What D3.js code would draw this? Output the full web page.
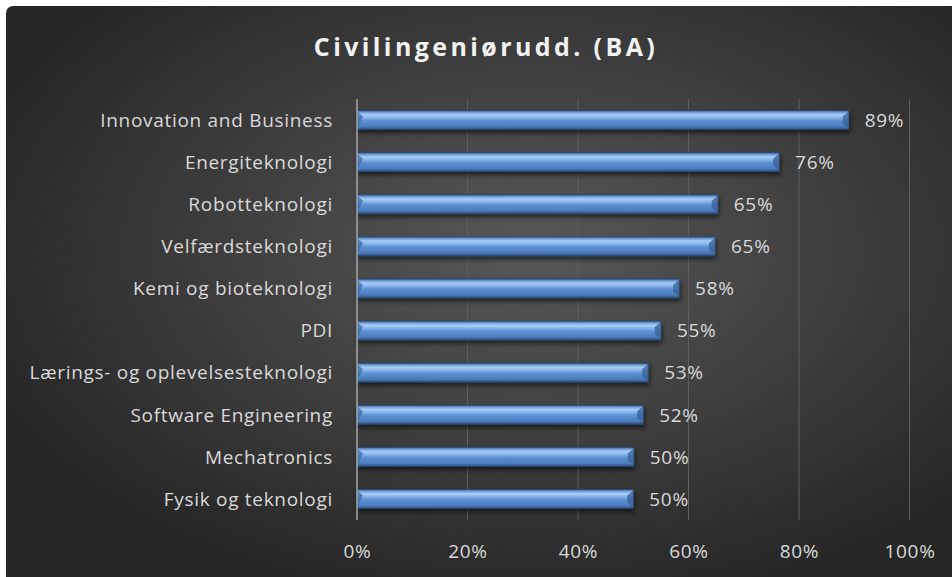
<!DOCTYPE html>
<html>
<head>
<meta charset="utf-8">
<script src="https://cdn.jsdelivr.net/npm/d3@7"></script>
<style>
  html, body { margin: 0; padding: 0; background: #fff; }
  svg { display: block; }
</style>
</head>
<body>
<div id="chart"></div>
<script>
const TITLE = "Civilingeniørudd. (BA)";
const categories = [
    "Innovation and Business",
    "Energiteknologi",
    "Robotteknologi",
    "Velfærdsteknologi",
    "Kemi og bioteknologi",
    "PDI",
    "Lærings- og oplevelsesteknologi",
    "Software Engineering",
    "Mechatronics",
    "Fysik og teknologi"
];
const values = [0.89, 0.764, 0.653, 0.648, 0.583, 0.55, 0.527, 0.518, 0.501, 0.50];
const xTicks = [0, 0.2, 0.4, 0.6, 0.8, 1.0];

const W = 952, H = 577;
const FONT = "'Open Sans', 'Liberation Sans', sans-serif";

const svg = d3.select("#chart").append("svg")
    .attr("width", W)
    .attr("height", H);

const defs = svg.append("defs");

// background radial gradient
const bg = defs.append("radialGradient")
    .attr("id", "bg")
    .attr("cx", "55%").attr("cy", "42%").attr("r", "62%");
bg.append("stop").attr("offset", "0%").attr("stop-color", "#585858");
bg.append("stop").attr("offset", "100%").attr("stop-color", "#262626");

// bar gradient (cylinder look)
const bar = defs.append("linearGradient")
    .attr("id", "barGrad")
    .attr("x1", 0).attr("y1", 0).attr("x2", 0).attr("y2", 1);
[
    ["0%", "#3d6497"],
    ["10%", "#6f9fdb"],
    ["22%", "#a8cdf5"],
    ["38%", "#86b4ea"],
    ["52%", "#5f92d3"],
    ["85%", "#4a7bbd"],
    ["100%", "#2c4f7c"]
].forEach(s => bar.append("stop").attr("offset", s[0]).attr("stop-color", s[1]));

const shadow = defs.append("filter").attr("id", "shadow")
    .attr("x", "-5%").attr("y", "-30%").attr("width", "110%").attr("height", "180%");
shadow.append("feDropShadow")
    .attr("dx", 1).attr("dy", 3).attr("stdDeviation", 2.5)
    .attr("flood-color", "#000").attr("flood-opacity", 0.6);

svg.append("rect")
    .attr("x", 6).attr("y", 6)
    .attr("width", W - 6 + 10).attr("height", H - 6 + 10)
    .attr("rx", 7)
    .attr("fill", "url(#bg)");

// title
svg.append("text")
    .attr("x", 486).attr("y", 56)
    .attr("text-anchor", "middle")
    .attr("fill", "#f2f2f2")
    .style("font-family", FONT)
    .style("font-size", "25px")
    .style("font-weight", "bold")
    .style("letter-spacing", "3.4px")
    .text(TITLE);

const margin = { left: 357, right: W - 909.5, top: 99, bottom: H - 520 };

const x = d3.scaleLinear()
    .domain([0, 1])
    .range([margin.left, W - margin.right]);

const y = d3.scaleBand()
    .domain(categories)
    .range([margin.top, H - margin.bottom])
    .paddingInner(0.55)
    .paddingOuter(0.275);

const labelStyle = sel => sel
    .attr("fill", "#d9d9d9")
    .style("font-family", FONT)
    .style("font-size", "19px")
    .style("letter-spacing", "0.7px");

// gridlines
svg.append("g")
    .selectAll("line")
    .data(xTicks.slice(1))
    .join("line")
    .attr("x1", d => x(d)).attr("x2", d => x(d))
    .attr("y1", margin.top).attr("y2", H - margin.bottom)
    .attr("stroke", "#5f5f5f")
    .attr("stroke-width", 1);

// x axis labels
const xAxis = svg.append("g")
    .attr("transform", `translate(0,${H - margin.bottom})`)
    .call(d3.axisBottom(x).tickValues(xTicks).tickFormat(d3.format(".0%")).tickSize(0).tickPadding(25));
xAxis.select(".domain").remove();
xAxis.selectAll("text").call(labelStyle);

// bars
const barG = svg.append("g");
const bars = barG.selectAll("g.bar")
    .data(categories)
    .join("g")
    .attr("class", "bar");

bars.append("rect")
    .attr("x", x(0))
    .attr("y", d => y(d))
    .attr("width", (d, i) => x(values[i]) - x(0))
    .attr("height", y.bandwidth())
    .attr("fill", "url(#barGrad)")
    .attr("stroke", "#2a4a74")
    .attr("stroke-width", 0.8)
    .attr("filter", "url(#shadow)");

// bevel at the ends
const bev = 6;
bars.append("path")
    .attr("d", d => {
        const x0 = x(0), y0 = y(d), h = y.bandwidth();
        return `M${x0},${y0 + 1} L${x0 + bev},${y0 + bev} L${x0},${y0 + h - 1} Z`;
    })
    .attr("fill", "#3f6aa3")
    .attr("opacity", 0.75);
bars.append("path")
    .attr("d", (d, i) => {
        const x1 = x(values[i]), y0 = y(d), h = y.bandwidth();
        return `M${x1},${y0 + 1} L${x1 - bev},${y0 + bev} L${x1 - bev},${y0 + h - bev} L${x1},${y0 + h - 1} Z`;
    })
    .attr("fill", "#3a6296")
    .attr("opacity", 0.8);

// value labels
bars.append("text")
    .attr("x", (d, i) => x(values[i]) + 16)
    .attr("y", d => y(d) + y.bandwidth() / 2)
    .attr("dy", "0.36em")
    .call(labelStyle)
    .text((d, i) => Math.round(values[i] * 100) + "%");

// zero axis line
svg.append("line")
    .attr("x1", x(0)).attr("x2", x(0))
    .attr("y1", margin.top).attr("y2", H - margin.bottom)
    .attr("stroke", "#a6a6a6")
    .attr("stroke-width", 1.5);

// category labels
svg.append("g")
    .selectAll("text")
    .data(categories)
    .join("text")
    .attr("x", 333)
    .attr("y", d => y(d) + y.bandwidth() / 2)
    .attr("dy", "0.36em")
    .attr("text-anchor", "end")
    .call(labelStyle)
    .text(d => d);
</script>
</body>
</html>
